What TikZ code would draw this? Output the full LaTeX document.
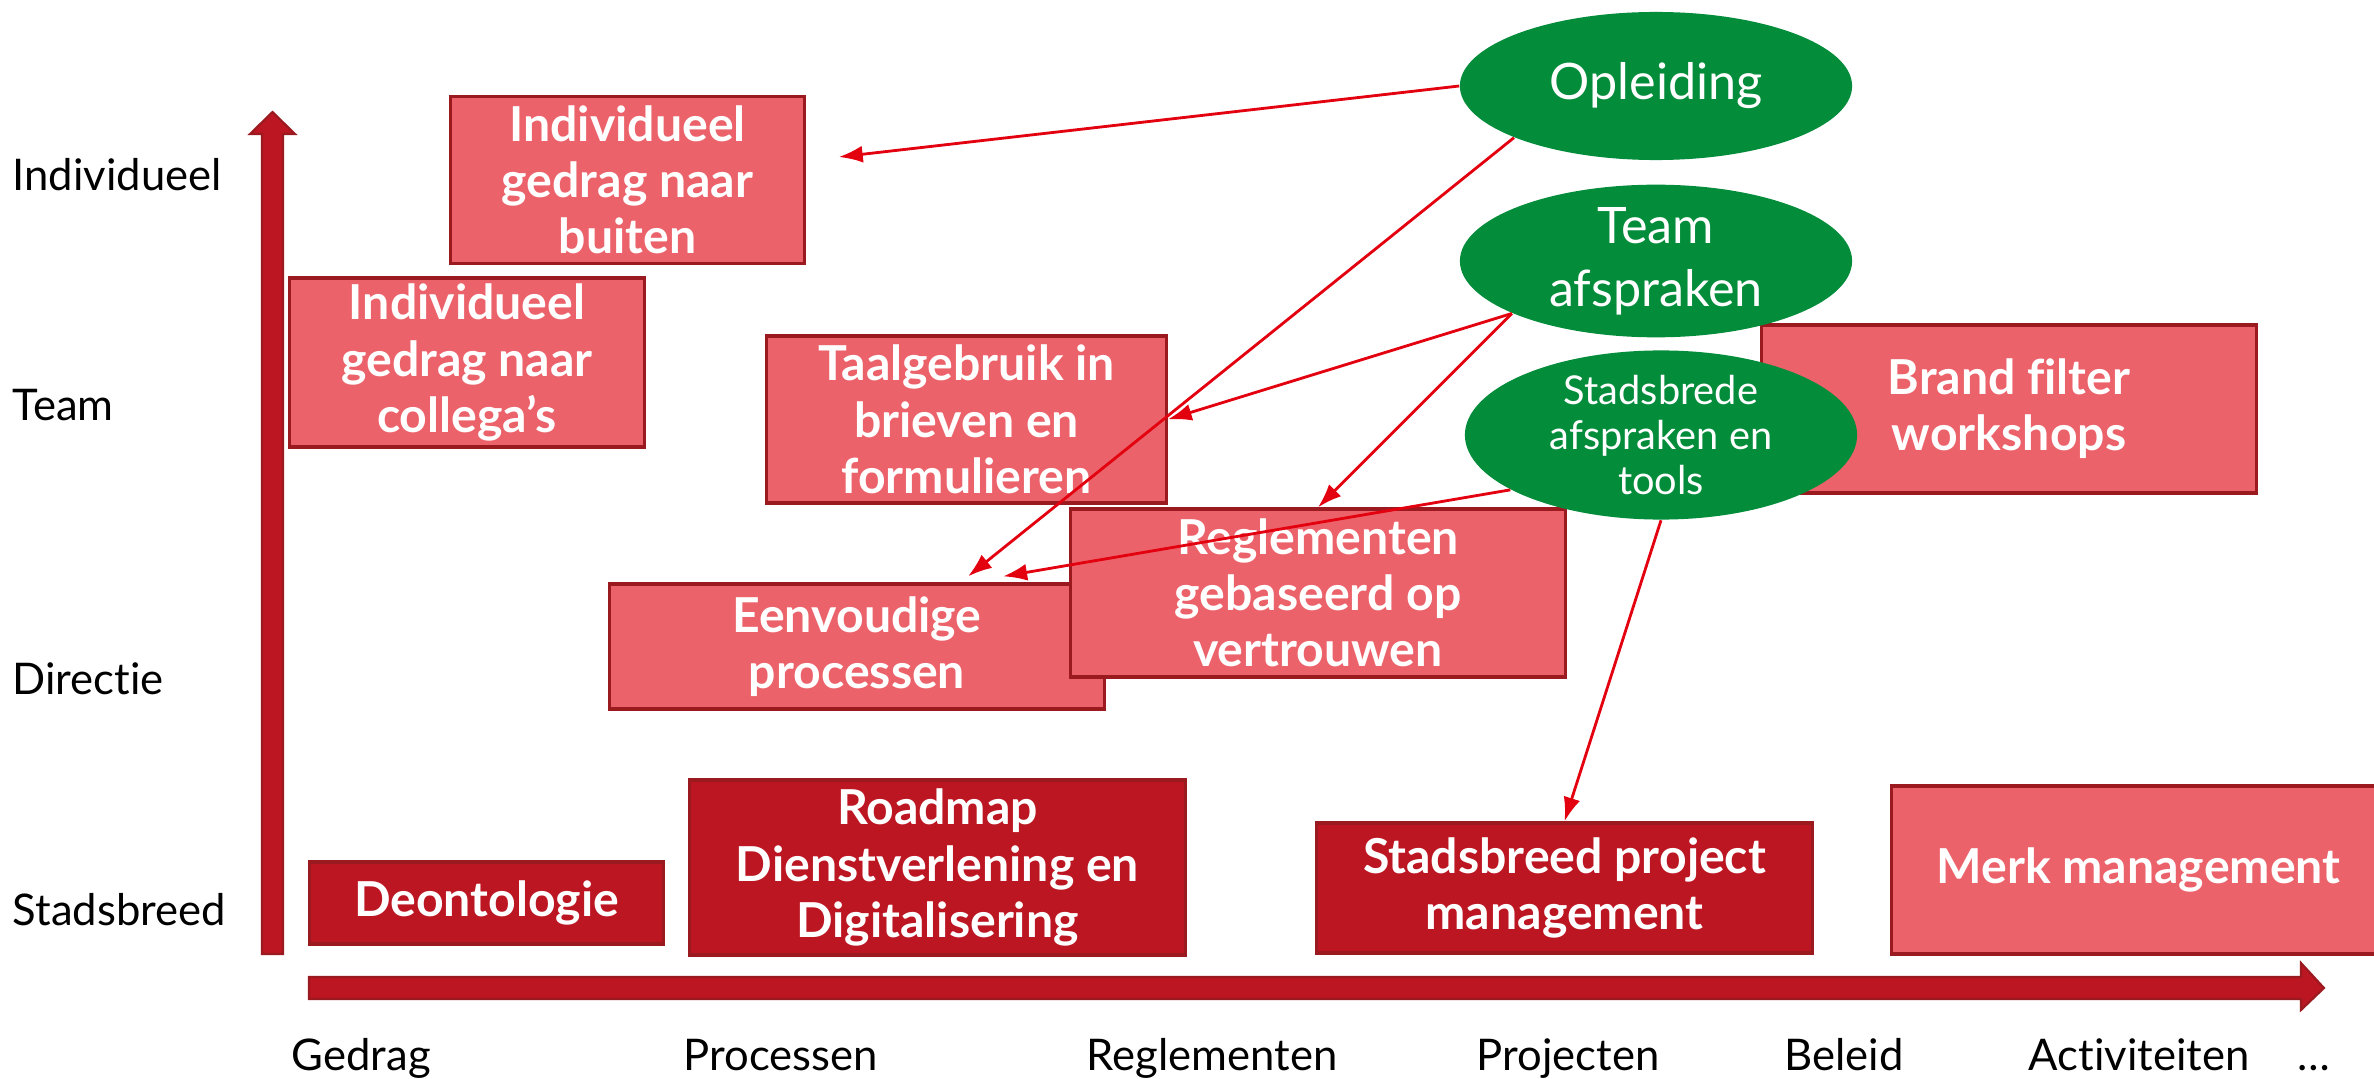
\documentclass[tikz,border=0pt]{standalone}
\usepackage{fontspec}
\setmainfont{Lato}[Ligatures=NoCommon]
\usetikzlibrary{arrows.meta,shapes.geometric}
\definecolor{lightred}{HTML}{EC626A}
\definecolor{darkred}{HTML}{BC1622}
\definecolor{edgered}{HTML}{9A1A20}
\definecolor{bubblegreen}{HTML}{038C3A}
\definecolor{linkred}{HTML}{E3000F}

\begin{document}
\begin{tikzpicture}[x=0.01cm,y=-0.01cm,
    box/.style={draw=edgered, line width=0.9pt, inner sep=0pt, align=center,
      text=white, font=\bfseries\fontsize{13.7}{16}\selectfont},
    lightbox/.style={box, fill=lightred},
    darkbox/.style={box, fill=darkred},
    bubble/.style={ellipse, fill=bubblegreen, inner sep=0pt, align=center,
      text=white, font=\fontsize{14.3}{18}\selectfont,
      minimum width=3.92cm, minimum height=1.48cm},
    axislabel/.style={anchor=base west, inner sep=0pt, font=\fontsize{12.4}{14}\selectfont},
    link/.style={linkred, line width=0.8pt, -{Latex[length=2.4mm,width=1.7mm]}}]
  \useasboundingbox (0,0) rectangle (2374,1079);

  % axes
  \filldraw[fill=darkred, draw=edgered, line width=0.6pt] (262,954) -- (262,134)
    -- (250,134) -- (272.5,112) -- (295,134) -- (283,134) -- (283,954) -- cycle;
  \filldraw[fill=darkred, draw=edgered, line width=0.6pt] (309,977) -- (2301,977)
    -- (2301,963) -- (2324,988) -- (2301,1010) -- (2301,999) -- (309,999) -- cycle;

  % levels
  \node[axislabel] (lvlind) at (12,191) {Individueel};
  \node[axislabel] (lvlteam) at (12,421) {Team};
  \node[axislabel] (lvldir) at (12,694) {Directie};
  \node[axislabel] (lvlstad) at (12,925) {Stadsbreed};

  % domains
  \node[axislabel] (domged) at (291,1070) {Gedrag};
  \node[axislabel] (dompro) at (683,1070) {Processen};
  \node[axislabel] (domreg) at (1086,1070) {Reglementen};
  \node[axislabel] (domprj) at (1476,1070) {Projecten};
  \node[axislabel] (dombel) at (1784,1070) {Beleid};
  \node[axislabel] (domact) at (2028,1070) {Activiteiten};
  \node[axislabel] (domdots) at (2297,1070) {\dots};

  % boxes
  \node[lightbox, minimum width=3.53cm, minimum height=1.67cm] (buiten) at (627.5,180)
    {Individueel\\gedrag naar\\buiten};
  \node[lightbox, minimum width=3.54cm, minimum height=1.69cm] (collega) at (467,362.5)
    {Individueel\\gedrag naar\\collega’s};
  \node[lightbox, minimum width=3.99cm, minimum height=1.67cm] (taal) at (966.5,419.5)
    {Taalgebruik in\\brieven en\\formulieren};
  \node[lightbox, minimum width=4.94cm, minimum height=1.25cm] (eenv) at (857,646.5)
    {Eenvoudige\\processen};
  \node[lightbox, minimum width=4.94cm, minimum height=1.68cm] (regl) at (1318,593)
    {Reglementen\\gebaseerd op\\vertrouwen};
  \node[lightbox, minimum width=4.94cm, minimum height=1.68cm] (brand) at (2009,409)
    {Brand filter\\workshops};
  \node[darkbox, minimum width=3.53cm, minimum height=0.82cm] (deon) at (486.5,903)
    {Deontologie};
  \node[darkbox, minimum width=4.95cm, minimum height=1.75cm] (road) at (937.5,867.5)
    {Roadmap\\Dienstverlening en\\Digitalisering};
  \node[darkbox, minimum width=4.95cm, minimum height=1.30cm] (proj) at (1564.5,888)
    {Stadsbreed project\\management};
  \node[lightbox, minimum width=4.93cm, minimum height=1.68cm] (merk) at (2138.5,870)
    {Merk management};

  % instruments
  \node[bubble] (opl) at (1656,86) {Opleiding};
  \node[bubble] (team) at (1656,261) {Team\\afspraken};
  \node[bubble, font=\fontsize{11.3}{12.8}\selectfont] (stad) at (1661,435)
    {Stadsbrede\\afspraken en\\tools};

  \draw[link] (opl.west) -- ([xshift=0.33cm,yshift=0.23cm]buiten.east);
  \draw[link] (opl.200) -- ([xshift=1.11cm,yshift=0.06cm]eenv.north);
  \draw[link] (team.200) -- (taal.east);
  \draw[link] (team.200) -- (regl.north);
  \draw[link] (stad.200) -- ([xshift=1.46cm,yshift=0.06cm]eenv.north);
  \draw[link] (stad.south) -- (proj.north);
\end{tikzpicture}
\end{document}
